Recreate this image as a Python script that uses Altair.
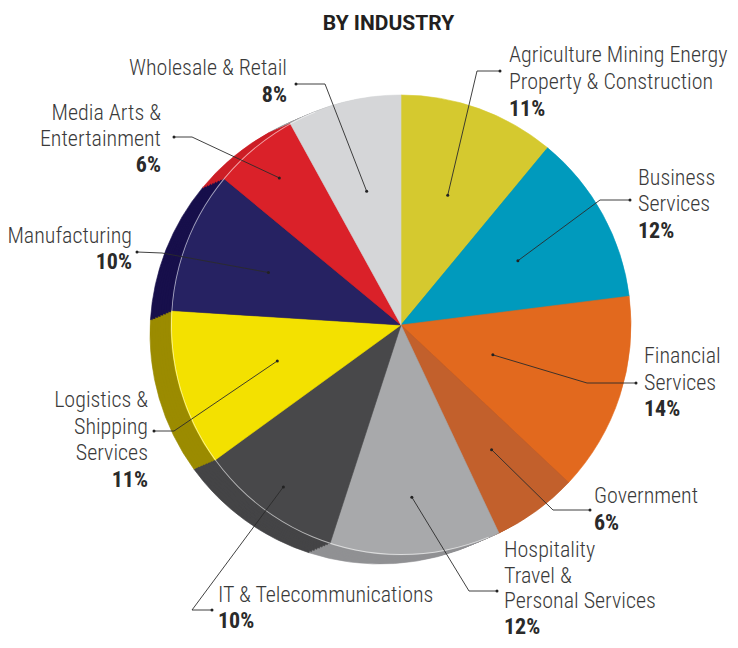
import math
import altair as alt
import pandas as pd

# ---------------- data ----------------
categories = [
    "Agriculture Mining Energy Property & Construction",
    "Business Services",
    "Financial Services",
    "Government",
    "Hospitality Travel & Personal Services",
    "IT & Telecommunications",
    "Logistics & Shipping Services",
    "Manufacturing",
    "Media Arts & Entertainment",
    "Wholesale & Retail",
]
values = [11, 12, 14, 6, 12, 10, 11, 10, 6, 8]
label_lines = [
    ["Agriculture Mining Energy", "Property & Construction"],
    ["Business", "Services"],
    ["Financial", "Services"],
    ["Government"],
    ["Hospitality", "Travel &", "Personal Services"],
    ["IT & Telecommunications"],
    ["Logistics &", "Shipping", "Services"],
    ["Manufacturing"],
    ["Media Arts &", "Entertainment"],
    ["Wholesale & Retail"],
]
top_colors = ["#D5C92F", "#009ABD", "#E2691E", "#C2602C", "#A8A9AB",
              "#48484A", "#F3E100", "#262262", "#DA2129", "#D5D6D8"]
side_colors = ["#A59C1F", "#00708A", "#B04F14", "#9A4A20", "#909193",
               "#444446", "#9B8B00", "#170F4B", "#CC1F27", "#9D9EA0"]

# ---------------- layout (page px, converted to plot px) ----------------
OFF = 8
W, H = 722, 632
CX, CY = 401 - OFF, 325 - OFF
R = 230
DEPTH_DX, DEPTH_DY = -21, 9
DEPTH_STEPS = 8

# label anchor: (align, x, first baseline, line step)
label_anchor = [
    ("left", 509, 62, 26.8), ("left", 638, 185, 26.4), ("left", 644, 363, 26.6),
    ("left", 594, 503, 27.0), ("left", 504, 557, 25.7), ("left", 218, 602, 26.0),
    ("right", 148, 407, 26.6), ("right", 132, 243, 25.5), ("right", 161, 120, 26.0),
    ("right", 287, 75, 27.0),
]
# leader: (inner dot radius fraction, elbow x, elbow y, end x, end y)
leader = [
    (0.60, 477, 71, 500, 71), (0.58, 600, 200, 630, 200),
    (0.42, 587, 383, 636, 383), (0.67, 553, 510, 590, 510),
    (0.75, 469, 591, 497, 591), (0.87, 192, 610, 212, 610),
    (0.56, 174, 431, 154, 431), (0.62, 162, 253, 137, 252),
    (0.83, 192, 137, 174, 137), (0.60, 325, 84, 296, 84),
]

NAME_FONT = "Roboto Condensed, Liberation Sans Narrow, Roboto, sans-serif"
TITLE_FONT = "Roboto, Liberation Sans, sans-serif"

df = pd.DataFrame({
    "cat": categories, "value": values, "idx": list(range(len(values))),
    "top": top_colors, "side": side_colors,
})


def pie(color_col, x, y):
    return alt.Chart(df).mark_arc(radius=R, strokeWidth=0.6).encode(
        theta=alt.Theta("value:Q", stack=True),
        order=alt.Order("idx:Q"),
        color=alt.Color(f"{color_col}:N", scale=None),
        stroke=alt.Stroke(f"{color_col}:N", scale=None),
        x=alt.value(x), y=alt.value(y),
    )


layers = []
for s in range(DEPTH_STEPS, 0, -1):
    f = s / DEPTH_STEPS
    layers.append(pie("side", CX + DEPTH_DX * f, CY + DEPTH_DY * f))
layers.append(pie("top", CX, CY))

# rim highlight along the visible side
layers.append(
    alt.Chart(pd.DataFrame({"a": [0]})).mark_arc(
        radius=R, radius2=R - 0.9, theta=2.75, theta2=5.9,
        color="white", opacity=0.6,
    ).encode(x=alt.value(CX), y=alt.value(CY))
)

# leader lines & dots
total = sum(values)
cum = 0
line_rows, dot_rows = [], []
for i, v in enumerate(values):
    mid = (cum + v / 2) / total * 2 * math.pi
    cum += v
    frac, ex, ey, tx, ty = leader[i]
    ix = CX + R * frac * math.sin(mid)
    iy = CY - R * frac * math.cos(mid)
    pts = [(ix, iy), (ex - OFF, ey - OFF), (tx - OFF, ty - OFF)]
    for k, (px, py) in enumerate(pts):
        line_rows.append({"cat": categories[i], "k": k, "x": px, "y": py})
    dot_rows.append({"x": ix, "y": iy})
    dot_rows.append({"x": tx - OFF, "y": ty - OFF})

lines_df = pd.DataFrame(line_rows)
dots_df = pd.DataFrame(dot_rows)

layers.append(
    alt.Chart(lines_df).mark_line(color="#2b2b2b", strokeWidth=0.9).encode(
        x=alt.X("x:Q", scale=None, axis=None),
        y=alt.Y("y:Q", scale=None, axis=None),
        detail="cat:N", order="k:Q",
    )
)
layers.append(
    alt.Chart(dots_df).mark_circle(size=9, color="#222222", opacity=1).encode(
        x=alt.X("x:Q", scale=None, axis=None),
        y=alt.Y("y:Q", scale=None, axis=None),
    )
)

# labels
text_rows = []
for i, v in enumerate(values):
    align, lx, ly, step = label_anchor[i]
    for j, t in enumerate(label_lines[i]):
        text_rows.append({"x": lx - OFF, "y": ly - OFF + j * step,
                          "text": t, "align": align, "bold": False})
    text_rows.append({"x": lx - OFF, "y": ly - OFF + len(label_lines[i]) * step,
                      "text": f"{v}%", "align": align, "bold": True})
text_df = pd.DataFrame(text_rows)

for align in ["left", "right"]:
    for bold in [False, True]:
        sub = text_df[(text_df["align"] == align) & (text_df["bold"] == bold)]
        layers.append(
            alt.Chart(sub).mark_text(
                align=align, baseline="alphabetic", font=NAME_FONT,
                fontSize=22, fontWeight="bold" if bold else 300,
                color="#2a2a2a" if bold else "#3a3a3a",
            ).encode(
                x=alt.X("x:Q", scale=None, axis=None),
                y=alt.Y("y:Q", scale=None, axis=None),
                text="text:N",
            )
        )

# title
layers.append(
    alt.Chart(pd.DataFrame({"t": ["BY INDUSTRY"]})).mark_text(
        align="center", baseline="alphabetic", font=TITLE_FONT,
        fontSize=21, fontWeight="bold", color="#231F20",
    ).encode(x=alt.value(388.5 - OFF), y=alt.value(30 - OFF), text="t:N")
)

chart = alt.layer(*layers).properties(
    width=W, height=H, padding=0,
    autosize=alt.AutoSizeParams(type="none"),
).configure_view(stroke=None)

chart.save("out.html", embed_options={"renderer": "svg", "actions": False})
